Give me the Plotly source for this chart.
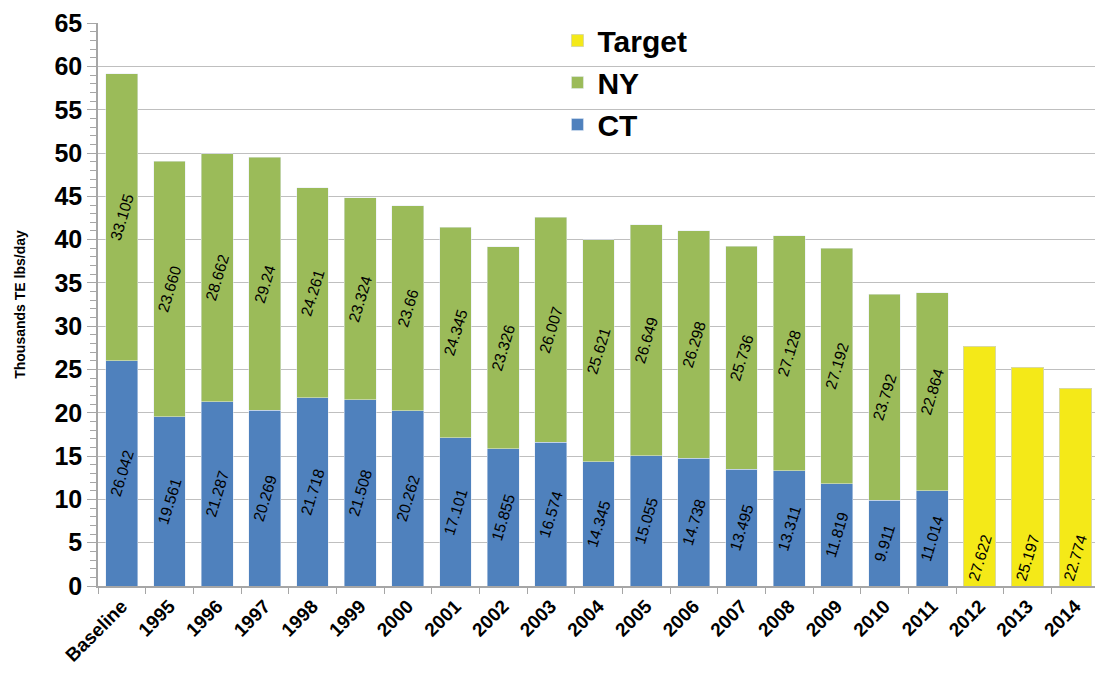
import plotly.graph_objects as go

categories = ["Baseline", "1995", "1996", "1997", "1998", "1999", "2000", "2001", "2002",
              "2003", "2004", "2005", "2006", "2007", "2008", "2009", "2010", "2011",
              "2012", "2013", "2014"]
hist_cats = categories[:18]
target_cats = categories[18:]

ct_values = [26.042, 19.561, 21.287, 20.269, 21.718, 21.508, 20.262, 17.101, 15.855,
             16.574, 14.345, 15.055, 14.738, 13.495, 13.311, 11.819, 9.911, 11.014]
ct_labels = ["26.042", "19.561", "21.287", "20.269", "21.718", "21.508", "20.262", "17.101",
             "15.855", "16.574", "14.345", "15.055", "14.738", "13.495", "13.311", "11.819",
             "9.911", "11.014"]
# bar heights as drawn (1995 bar is drawn taller than its printed label)
ny_values = [33.105, 29.5, 28.662, 29.24, 24.261, 23.324, 23.66, 24.345, 23.326,
             26.007, 25.621, 26.649, 26.298, 25.736, 27.128, 27.192, 23.792, 22.864]
ny_labels = ["33.105", "23.660", "28.662", "29.24", "24.261", "23.324", "23.66", "24.345",
             "23.326", "26.007", "25.621", "26.649", "26.298", "25.736", "27.128", "27.192",
             "23.792", "22.864"]
target_values = [27.622, 25.197, 22.774]
target_labels = ["27.622", "25.197", "22.774"]
y_ticks = [0, 5, 10, 15, 20, 25, 30, 35, 40, 45, 50, 55, 60, 65]

FONT = "Liberation Sans, Arial, sans-serif"
label_font = dict(family=FONT, size=15.5, color="black")

fig = go.Figure()
fig.add_trace(go.Bar(
    name="CT", x=hist_cats, y=ct_values, marker=dict(color="#4F81BD"),
    text=ct_labels, textposition="inside", textangle=-73, insidetextanchor="middle",
    textfont=label_font, constraintext="none"))
fig.add_trace(go.Bar(
    name="NY", x=hist_cats, y=ny_values, marker=dict(color="#9BBB59"),
    text=ny_labels, textposition="inside", textangle=-73, insidetextanchor="middle",
    textfont=label_font, constraintext="none"))
fig.add_trace(go.Bar(
    name="Target", x=target_cats, y=target_values,
    marker=dict(color="#F4E918", line=dict(color="#D9D9A0", width=1)),
    text=target_labels, textposition="inside", textangle=-73, insidetextanchor="start",
    textfont=label_font, constraintext="none"))

fig.update_layout(
    width=1103, height=676,
    barmode="stack", bargap=0.33,
    plot_bgcolor="white", paper_bgcolor="white",
    margin=dict(l=90, r=12, t=15, b=98, autoexpand=False),
    font=dict(family=FONT, color="black"),
    legend=dict(
        x=0.459, y=1.015, xanchor="left", yanchor="top",
        traceorder="reversed", bgcolor="rgba(0,0,0,0)",
        font=dict(size=30, family=FONT, color="black", weight="bold"),
        itemwidth=30, tracegroupgap=0,
    ),
)
fig.update_xaxes(
    categoryorder="array", categoryarray=categories, automargin=False,
    tickangle=-45, tickfont=dict(size=19, weight="bold"),
    showline=True, linecolor="#A6A6A6", linewidth=1.5,
    ticks="outside", tickson="boundaries", ticklen=6, tickcolor="#A6A6A6",
    showgrid=False,
)
fig.update_yaxes(
    range=[0, 65.02], tickmode="array", tickvals=y_ticks, automargin=False,
    ticklabeloverflow="allow",
    tickfont=dict(size=25, weight="bold"),
    showline=True, linecolor="#A6A6A6", linewidth=1.5,
    ticks="outside", ticklen=9, tickcolor="#A6A6A6",
    minor=dict(dtick=1, ticks="outside", ticklen=6, tickcolor="#A6A6A6", showgrid=False),
    showgrid=True, gridcolor="#BFBFBF", gridwidth=1,
    title=dict(text="Thousands TE lbs/day", font=dict(size=14, weight="bold"), standoff=26),
)

fig.write_html("out.html")
